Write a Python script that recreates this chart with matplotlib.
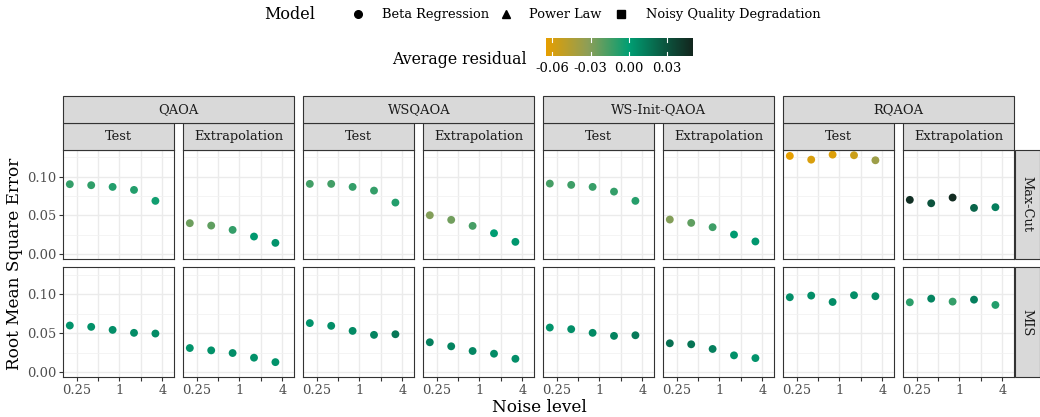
import numpy as np
import matplotlib
matplotlib.use('Agg')
import matplotlib.pyplot as plt
from matplotlib.colors import LinearSegmentedColormap, Normalize
from matplotlib.patches import Rectangle
from matplotlib.ticker import NullLocator, FixedLocator

plt.rcParams['font.family'] = 'DejaVu Serif'

# Datos
noise_levels = [0.2, 0.4, 0.8, 1.6, 3.2]
algorithms = ['QAOA', 'WSQAOA', 'WS-Init-QAOA', 'RQAOA']
splits = ['Test', 'Extrapolation']
problems = ['Max-Cut', 'MIS']
model_names = ['Beta Regression', 'Power Law', 'Noisy Quality Degradation']

# una fila por panel: QAOA Test, QAOA Extrap, WSQAOA Test, ...
maxcut_rmse = [
    [0.0902, 0.0889, 0.0867, 0.0828, 0.0686],
    [0.0397, 0.0366, 0.0310, 0.0224, 0.0142],
    [0.0906, 0.0906, 0.0867, 0.0819, 0.0664],
    [0.0500, 0.0440, 0.0362, 0.0267, 0.0155],
    [0.0910, 0.0893, 0.0867, 0.0806, 0.0686],
    [0.0444, 0.0401, 0.0345, 0.0250, 0.0160],
    [0.1268, 0.1220, 0.1285, 0.1277, 0.1212],
    [0.0699, 0.0655, 0.0729, 0.0595, 0.0604],
]
maxcut_resid = [
    [-0.012, -0.011, -0.008, -0.008, -0.004],
    [-0.025, -0.022, -0.012, 0.002, 0.004],
    [-0.015, -0.015, -0.012, -0.012, -0.008],
    [-0.030, -0.026, -0.016, 0.000, 0.003],
    [-0.016, -0.014, -0.013, -0.012, -0.009],
    [-0.030, -0.022, -0.014, 0.001, 0.003],
    [-0.065, -0.060, -0.062, -0.055, -0.038],
    [0.045, 0.030, 0.047, 0.022, 0.012],
]
mis_rmse = [
    [0.0599, 0.0582, 0.0543, 0.0505, 0.0496],
    [0.0310, 0.0280, 0.0246, 0.0186, 0.0129],
    [0.0630, 0.0595, 0.0530, 0.0479, 0.0487],
    [0.0384, 0.0332, 0.0272, 0.0237, 0.0172],
    [0.0573, 0.0552, 0.0505, 0.0466, 0.0474],
    [0.0371, 0.0358, 0.0298, 0.0216, 0.0181],
    [0.0962, 0.0983, 0.0901, 0.0988, 0.0975],
    [0.0897, 0.0944, 0.0906, 0.0931, 0.0863],
]
mis_resid = [
    [0.004, 0.005, 0.006, 0.007, 0.007],
    [0.004, 0.005, 0.006, 0.005, 0.004],
    [0.004, 0.006, 0.008, 0.010, 0.015],
    [0.012, 0.010, 0.009, 0.007, 0.006],
    [0.004, 0.006, 0.008, 0.010, 0.014],
    [0.018, 0.016, 0.012, 0.005, 0.004],
    [0.006, 0.006, 0.007, 0.006, 0.008],
    [-0.010, 0.010, -0.012, 0.012, -0.008],
]
resid_ticks = [-0.06, -0.03, 0.00, 0.03]

# Escala de color
vmin, vmax = -0.0652, 0.0498
z = -vmin / (vmax - vmin)
cmap = LinearSegmentedColormap.from_list(
    'resid', [(0.0, '#E69F00'), (z / 2, '#8E9E57'), (z, '#009E73'),
              (z + (1 - z) / 2, '#0B5E45'), (1.0, '#13261E')])
norm = Normalize(vmin, vmax)

SMALL = 9.4
W, H = 1040, 417
fig = plt.figure(figsize=(W / 100, H / 100), dpi=100)


def fx(x):
    return x / W


def fy(y):
    return 1 - y / H


def box(x0, y0, w, h, label, rot=0):
    fig.add_artist(Rectangle((fx(x0), fy(y0 + h)), w / W, h / H, transform=fig.transFigure,
                             facecolor='#D9D9D9', edgecolor='#333333', lw=0.8))
    fig.text(fx(x0 + w / 2), fy(y0 + h / 2), label, ha='center', va='center',
             rotation=rot, fontsize=SMALL, color='#1A1A1A')


left0, pw, gap = 63.3, 111, 9
row_top = [150, 267.4]
row_h = [109, 110]
rmse_rows = [maxcut_rmse, mis_rmse]
resid_rows = [maxcut_resid, mis_resid]

for r in range(2):
    for c in range(8):
        x0 = left0 + c * (pw + gap)
        ax = fig.add_axes([fx(x0), fy(row_top[r] + row_h[r]), pw / W, row_h[r] / H])
        ax.scatter(noise_levels, rmse_rows[r][c], c=resid_rows[r][c], cmap=cmap, norm=norm,
                   s=32, linewidths=0, zorder=3)
        ax.set_xscale('log', base=2)
        ax.set_xlim(2 ** -2.626, 2 ** 2.561)
        ax.set_ylim(-0.0067, 0.1345)
        ax.set_xticks([0.25, 0.5, 1, 2, 4])
        ax.set_xticklabels(['0.25', '', '1', '', '4'])
        ax.xaxis.set_minor_locator(NullLocator())
        ax.set_yticks([0.0, 0.05, 0.10])
        ax.set_yticklabels(['0.00', '0.05', '0.10'])
        ax.yaxis.set_minor_locator(FixedLocator([0.025, 0.075, 0.125]))
        ax.grid(which='major', color='#EBEBEB', lw=1.0, zorder=0)
        ax.grid(which='minor', axis='y', color='#F2F2F2', lw=0.6, zorder=0)
        ax.set_axisbelow(True)
        ax.tick_params(which='major', direction='out', length=2.75, width=0.8,
                       color='#333333', labelsize=SMALL, labelcolor='#4D4D4D', pad=2.2)
        ax.tick_params(which='minor', length=0)
        for s in ax.spines.values():
            s.set_color('#333333')
            s.set_linewidth(0.8)
        if c > 0:
            ax.tick_params(axis='y', left=False, labelleft=False)
        if r == 0:
            ax.tick_params(axis='x', bottom=False, labelbottom=False)
        if r == 0:
            box(x0, 122.7, pw, 27.3, splits[c % 2])
    box(1015.3, row_top[r], 24.2, row_h[r], problems[r], rot=-90)

for i, alg in enumerate(algorithms):
    x0 = left0 + 2 * i * (pw + gap)
    box(x0, 95.7, 2 * pw + gap, 27, alg)

# Títulos de ejes
fig.text(fx(539.5), fy(408), 'Noise level', ha='center', va='center', fontsize=12.2)
fig.text(fx(15), fy(264), 'Root Mean Square Error', ha='center', va='center',
         rotation=90, fontsize=12.2)

# Leyenda de forma
lax = fig.add_axes([0, 0, 1, 1])
lax.set_xlim(0, W)
lax.set_ylim(H, 0)
lax.axis('off')
lax.text(264.5, 14, 'Model', ha='left', va='center', fontsize=11.5)
for mk, xm, xt, name in zip(['o', '^', 's'], [358, 506, 621], [382, 529, 646], model_names):
    lax.plot([xm], [14], marker=mk, color='black', ms=5.5, ls='none')
    lax.text(xt, 14, name, ha='left', va='center', fontsize=SMALL)

# Barra de color
lax.text(527, 63.5, 'Average residual', ha='right', va='baseline', fontsize=11.3)
cax = fig.add_axes([fx(545.7), fy(55.7), 146.6 / W, 17.4 / H])
grad = np.linspace(vmin, vmax, 256).reshape(1, -1)
cax.imshow(grad, cmap=cmap, norm=norm, aspect='auto', extent=[vmin, vmax, 0, 1])
for t in resid_ticks:
    cax.plot([t, t], [0, 0.22], color='white', lw=0.8)
    cax.plot([t, t], [0.78, 1], color='white', lw=0.8)
cax.set_xlim(vmin, vmax)
cax.set_ylim(0, 1)
cax.set_yticks([])
cax.set_xticks(resid_ticks)
cax.set_xticklabels(['%.2f' % t for t in resid_ticks])
cax.tick_params(axis='x', length=0, labelsize=SMALL, pad=4.5)
for s in cax.spines.values():
    s.set_visible(False)

fig.savefig('out.png', dpi=100)
